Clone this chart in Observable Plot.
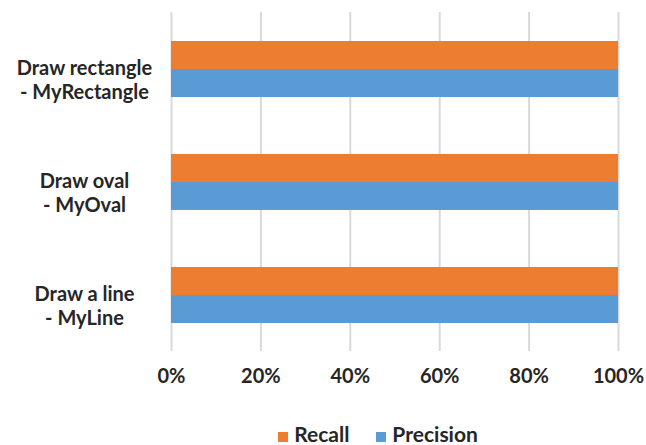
<!DOCTYPE html>
<html>
<head>
<meta charset="utf-8">
<script src="https://cdn.jsdelivr.net/npm/d3@7"></script>
<script src="https://cdn.jsdelivr.net/npm/@observablehq/plot@0.6"></script>
<style>
  body { margin: 0; background: #fff; font-family: Lato, "Open Sans", sans-serif; }
  #legend { display: flex; justify-content: center; gap: 27px; font-weight: bold; font-size: 21px; color: #262626; padding-top: 22px; padding-left: 110px; line-height: 24px; }
  #legend span.sw { display: inline-block; width: 10px; height: 10px; margin-right: 6px; margin-top: 6px; }
  #legend .item { display: flex; align-items: center; }
</style>
</head>
<body>
<div id="chart"></div>
<div id="legend"></div>
<script>
const categories = ["Draw rectangle\n- MyRectangle", "Draw oval\n- MyOval", "Draw a line\n- MyLine"];
const series = ["Recall", "Precision"];
const recall = [1, 1, 1];
const precision = [1, 1, 1];
const xTicks = [0, 0.2, 0.4, 0.6, 0.8, 1];
const colors = ["#ED7D31", "#5B9BD5"];

const rows = [];
categories.forEach((c, i) => {
  rows.push({category: c, series: "Recall", value: recall[i]});
  rows.push({category: c, series: "Precision", value: precision[i]});
});

const plot = Plot.plot({
  width: 646,
  height: 400,
  marginLeft: 171,
  marginRight: 28,
  marginTop: 12,
  marginBottom: 49,
  style: {fontFamily: "Lato, sans-serif", fontWeight: "bold", fontSize: "20px", color: "#262626"},
  x: {domain: [0, 1], ticks: xTicks, tickFormat: d3.format(".0%"), label: null},
  y: {domain: series, paddingInner: 0, paddingOuter: 0.95, axis: null},
  fy: {domain: categories, padding: 0, axis: null},
  color: {domain: series, range: colors},
  marks: [
    Plot.gridX(xTicks, {stroke: "#d9d9d9", strokeOpacity: 1, strokeWidth: 2}),
    Plot.barX(rows, {fy: "category", y: "series", x: "value", fill: "series"}),
    Plot.axisX({ticks: xTicks, tickFormat: d3.format(".0%"), tickSize: 0, tickPadding: 17, label: null, fontSize: 20}),
    Plot.text(categories, {fy: d => d, x: 0, dx: -87, text: d => d, textAnchor: "middle", lineAnchor: "top", dy: -11, lineHeight: 1.2, fontSize: 20, fontWeight: "bold", fill: "#262626"})
  ]
});
document.getElementById("chart").appendChild(plot);

const legend = document.getElementById("legend");
series.forEach((s, i) => {
  const item = document.createElement("div");
  item.className = "item";
  const sw = document.createElement("span");
  sw.className = "sw";
  sw.style.background = colors[i];
  item.appendChild(sw);
  item.appendChild(document.createTextNode(s));
  legend.appendChild(item);
});
</script>
</body>
</html>
